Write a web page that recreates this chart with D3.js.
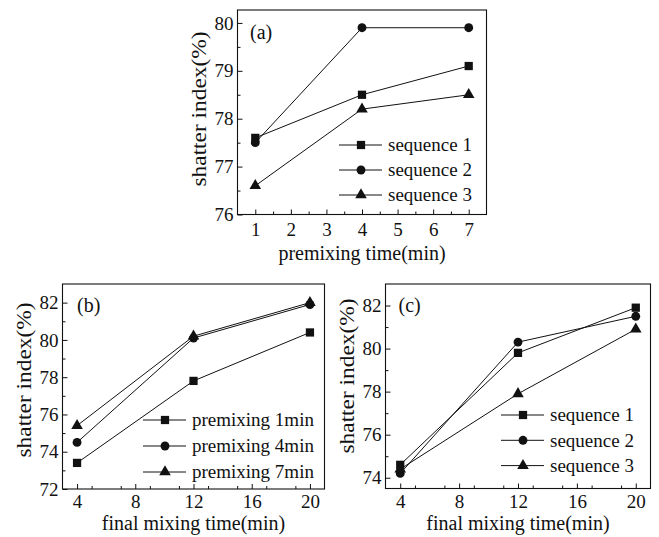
<!DOCTYPE html>
<html><head><meta charset="utf-8">
<script src="https://cdn.jsdelivr.net/npm/d3@7"></script>
<style>
html,body{margin:0;padding:0;background:#fff;}
svg{display:block;}
text{font-family:"Liberation Serif","Times New Roman",serif;fill:#111;}
</style></head>
<body>
<svg id="chart" width="659" height="537"></svg>
<script>
// ---- data ----
const xA = [1, 4, 7];
const seqA1 = [77.6, 78.5, 79.1];
const seqA2 = [77.5, 79.9, 79.9];
const seqA3 = [76.6, 78.2, 78.5];
const xTicksA = [1, 2, 3, 4, 5, 6, 7];
const yTicksA = [76, 77, 78, 79, 80];

const xB = [4, 12, 20];
const pre1 = [73.4, 77.8, 80.4];
const pre4 = [74.5, 80.1, 81.9];
const pre7 = [75.4, 80.2, 82.0];
const xTicksB = [4, 8, 12, 16, 20];
const yTicksB = [72, 74, 76, 78, 80, 82];

const xC = [4, 12, 20];
const seqC1 = [74.6, 79.8, 81.9];
const seqC2 = [74.2, 80.3, 81.5];
const seqC3 = [74.4, 77.9, 80.9];
const xTicksC = [4, 8, 12, 16, 20];
const yTicksC = [74, 76, 78, 80, 82];

const legA = ["sequence 1", "sequence 2", "sequence 3"];
const legB = ["premixing 1min", "premixing 4min", "premixing 7min"];
const xTitleA = "premixing time(min)";
const xTitleB = "final mixing time(min)";
const yTitle = "shatter index(%)";

const svg = d3.select("#chart");
const symbols = [d3.symbolSquare, d3.symbolCircle, d3.symbolTriangle];
const symSize = [68, 62, 58];
const FONT = '"Liberation Serif","Times New Roman",serif';

function panel(cfg) {
  const g = svg.append("g");
  const x = d3.scaleLinear().domain(cfg.xd).range([cfg.l, cfg.r]);
  const y = d3.scaleLinear().domain(cfg.yd).range([cfg.b, cfg.t]);

  const xMinor = d3.range(cfg.xd[0], cfg.xd[1] + 1e-9, cfg.xm).filter(v => !cfg.xt.includes(v) && v > cfg.xd[0] && v < cfg.xd[1]);
  const yMinor = d3.range(Math.ceil(cfg.yd[0] / cfg.ym) * cfg.ym, cfg.yd[1] + 1e-9, cfg.ym).filter(v => !cfg.yt.some(t => Math.abs(t - v) < 1e-9) && v > cfg.yd[0] && v < cfg.yd[1]);

  const xAx = g.append("g").attr("transform", `translate(0,${cfg.b})`)
    .call(d3.axisBottom(x).tickValues(cfg.xt).tickSize(-5).tickPadding(cfg.xpad).tickFormat(d3.format("d")));
  const xAxm = g.append("g").attr("transform", `translate(0,${cfg.b})`)
    .call(d3.axisBottom(x).tickValues(xMinor).tickSize(-3).tickFormat(""));
  const yAx = g.append("g").attr("transform", `translate(${cfg.l},0)`)
    .call(d3.axisLeft(y).tickValues(cfg.yt).tickSize(-5).tickPadding(4).tickFormat(d3.format("d")));
  const yAxm = g.append("g").attr("transform", `translate(${cfg.l},0)`)
    .call(d3.axisLeft(y).tickValues(yMinor).tickSize(-3).tickFormat(""));
  [xAx, xAxm, yAx, yAxm].forEach(a => {
    a.select(".domain").remove();
    a.selectAll("line").attr("stroke", "#111").attr("stroke-width", 1);
    a.selectAll("text").style("font-size", "19px").style("font-family", FONT).attr("fill", "#111");
  });
  g.append("rect").attr("x", cfg.l).attr("y", cfg.t).attr("width", cfg.r - cfg.l).attr("height", cfg.b - cfg.t)
    .attr("fill", "none").attr("stroke", "#111").attr("stroke-width", 1.1);

  cfg.series.forEach((s, i) => {
    const pts = cfg.xs.map((xv, j) => [x(xv), y(s[j])]);
    g.append("path").attr("d", d3.line()(pts)).attr("fill", "none").attr("stroke", "#111").attr("stroke-width", 1);
    g.selectAll(null).data(pts).enter().append("path")
      .attr("transform", d => `translate(${d[0]},${d[1]})`)
      .attr("d", d3.symbol().type(symbols[i]).size(symSize[i]))
      .attr("fill", "#111");
  });

  cfg.leg.forEach((name, i) => {
    const ly = cfg.legY + i * cfg.legDy;
    g.append("line").attr("x1", cfg.legX).attr("x2", cfg.legX + 43).attr("y1", ly).attr("y2", ly)
      .attr("stroke", "#111").attr("stroke-width", 1);
    g.append("path").attr("transform", `translate(${cfg.legX + 22},${ly})`)
      .attr("d", d3.symbol().type(symbols[i]).size(symSize[i])).attr("fill", "#111");
    g.append("text").attr("x", cfg.legX + 49).attr("y", ly).attr("dy", "0.33em")
      .style("font-size", "19px").text(name);
  });

  g.append("text").attr("x", cfg.lab[0]).attr("y", cfg.lab[1]).attr("dy", "0.33em")
    .style("font-size", "20px").text(cfg.label);

  g.append("text").attr("x", (cfg.l + cfg.r) / 2).attr("y", cfg.xtY).attr("text-anchor", "middle")
    .style("font-size", "20px").text(cfg.xTitle);
  g.append("text").attr("transform", `translate(${cfg.ytX},${cfg.ytC}) rotate(-90)`).attr("text-anchor", "middle")
    .attr("textLength", 155).attr("lengthAdjust", "spacingAndGlyphs")
    .style("font-size", "20px").text(yTitle);
}

panel({l: 237.5, r: 486.5, t: 10, b: 214.5, xd: [0.5, 7.5], yd: [76, 80.27], xt: xTicksA, yt: yTicksA, xm: 0.5, ym: 0.5, xpad: 8,
  xs: xA, series: [seqA1, seqA2, seqA3], leg: legA, legX: 339, legY: 145, legDy: 25,
  lab: [250, 32], label: "(a)", xTitle: xTitleA, xtY: 260, ytX: 206, ytC: 109});
panel({l: 62.5, r: 324.5, t: 284, b: 489, xd: [3, 21], yd: [72, 83], xt: xTicksB, yt: yTicksB, xm: 2, ym: 1, xpad: 6,
  xs: xB, series: [pre1, pre4, pre7], leg: legB, legX: 143, legY: 420, legDy: 26,
  lab: [77, 305], label: "(b)", xTitle: xTitleB, xtY: 530, ytX: 31, ytC: 380});
panel({l: 385.5, r: 650.5, t: 284, b: 488.5, xd: [3, 21], yd: [73.5, 83], xt: xTicksC, yt: yTicksC, xm: 2, ym: 1, xpad: 6,
  xs: xC, series: [seqC1, seqC2, seqC3], leg: legA, legX: 501, legY: 415, legDy: 25.3,
  lab: [398.5, 305], label: "(c)", xTitle: xTitleB, xtY: 530, ytX: 354, ytC: 376});
</script>
</body></html>
